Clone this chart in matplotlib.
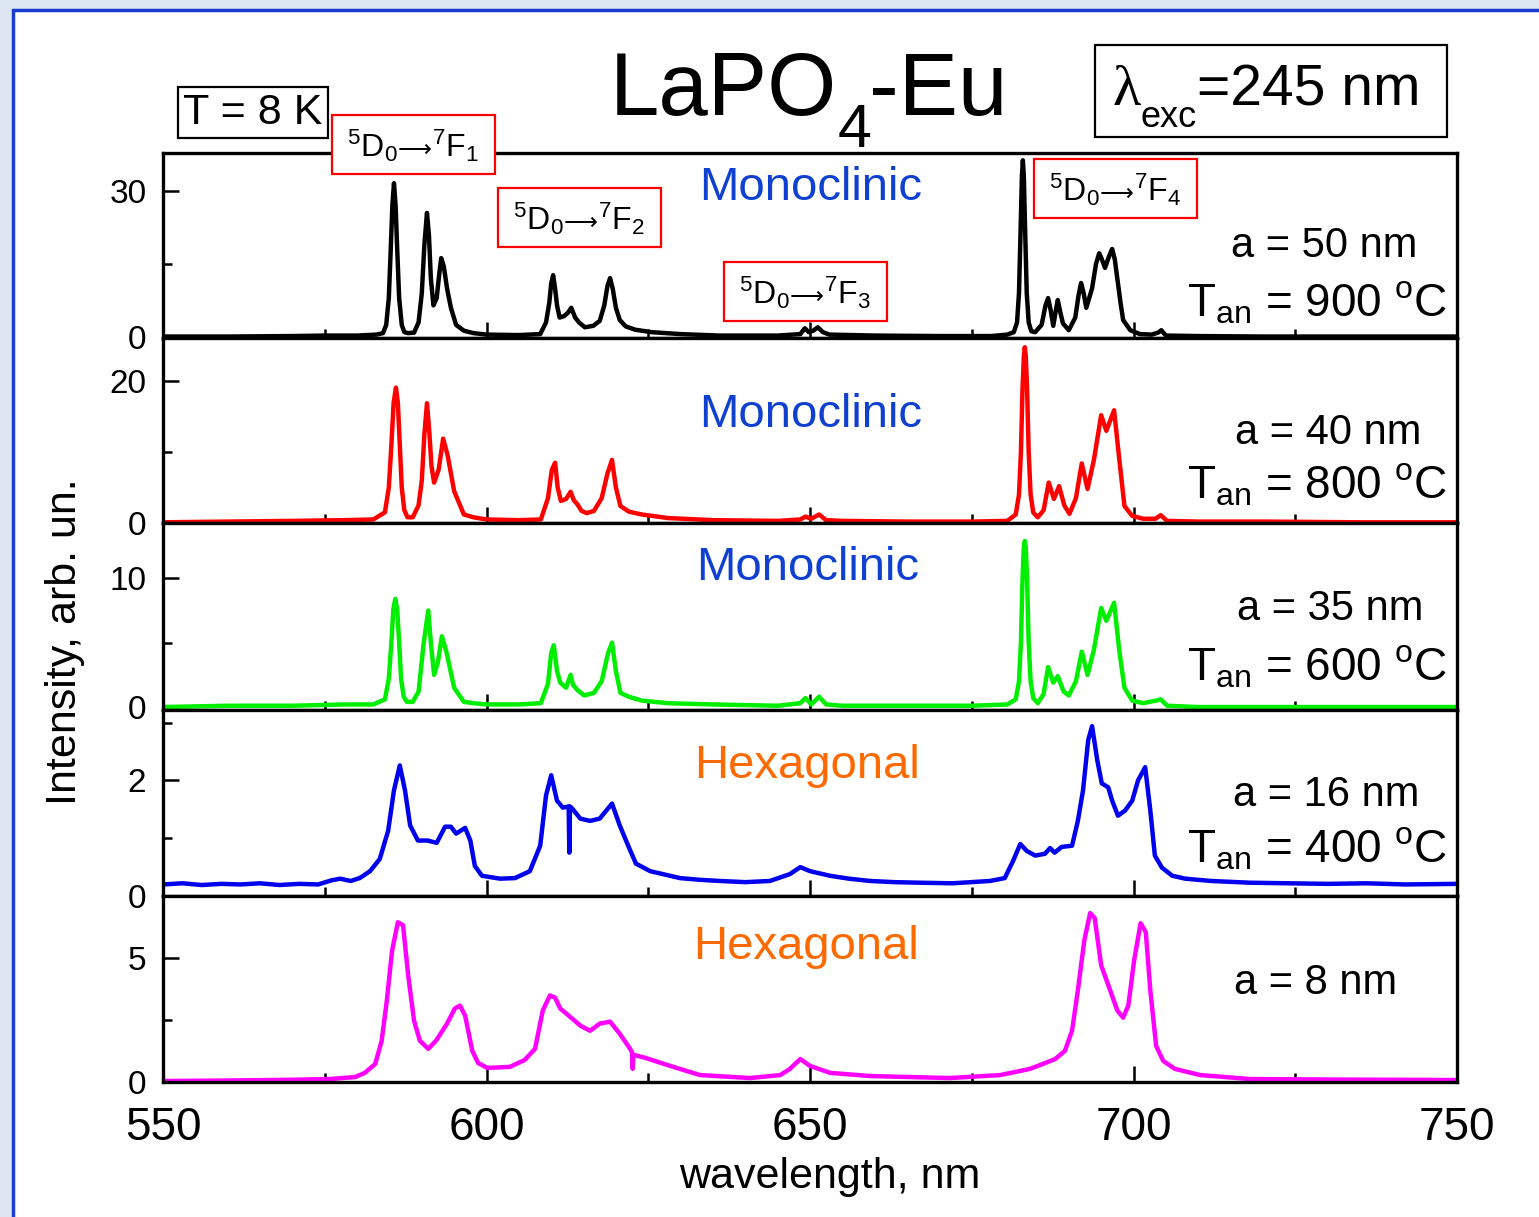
"""
LaPO4-Eu luminescence spectra at 8 K, five particle sizes stacked
"""

import matplotlib
matplotlib.use("Agg")
import matplotlib.pyplot as plt
from matplotlib.patches import Rectangle
from matplotlib.ticker import MultipleLocator

plt.rcParams['font.family'] = ['Liberation Sans', 'DejaVu Sans']
plt.rcParams['mathtext.fontset'] = 'custom'
plt.rcParams['mathtext.rm'] = 'Liberation Sans'
plt.rcParams['mathtext.it'] = 'Liberation Sans:italic'
plt.rcParams['mathtext.bf'] = 'Liberation Sans:bold'

W, H = 1539, 1217

# ---- spectra (wavelength nm, intensity arb. un.) ----
wl_50 = [550, 560, 570, 575, 580, 583.0, 584.0, 584.5, 584.9, 585.2, 585.45, 585.7, 585.95, 586.2,
         586.5, 586.9, 587.3, 587.9, 588.8, 589.5, 590.0, 590.4, 590.8, 591.1, 591.4, 591.8, 592.3,
         592.7, 593.0, 593.4, 593.9, 594.5, 595.3, 596.5, 598, 600, 605, 608.3, 609.2, 609.7,
         610.0, 610.3, 610.6, 610.9, 611.3, 612.0, 612.6, 613.1, 613.7, 614.3, 615.2, 616.5, 617.5,
         618.2, 618.7, 619.1, 619.5, 620.0, 620.6, 621.5, 623, 625.5, 630, 636, 645, 648.5, 649.2,
         649.8, 650.5, 651.2, 652.0, 653, 660, 670, 678, 680.5, 681.5, 682.0, 682.3, 682.55, 682.75,
         682.9, 683.05, 683.25, 683.5, 683.8, 684.2, 684.8, 685.8, 686.4, 686.8, 687.2, 687.6, 688.0,
         688.3, 688.7, 689.1, 690.0, 691.0, 691.5, 691.9, 692.3, 692.7, 693.6, 694.2, 694.7, 695.1,
         695.6, 696.2, 696.7, 697.1, 697.5, 698.0, 698.4, 699.5, 701, 702.8, 703.8, 704.3, 705, 710,
         720, 735, 750]
int_50 = [0.1, 0.1, 0.2, 0.3, 0.3, 0.5, 0.8, 2.5, 8, 18, 27, 31.6, 27, 18,
          8, 2.5, 1.0, 0.8, 0.9, 3.0, 9, 19, 25.5, 21, 12, 6.5, 8,
          13, 16.2, 14.5, 10, 6, 2.5, 1.3, 0.8, 0.5, 0.4, 0.6, 3.0, 7,
          11, 12.7, 10, 6.5, 4.0, 4.3, 5.0, 6.0, 4.0, 3.0, 2.0, 2.3, 3.3,
          6.5, 10.5, 12.1, 10, 6, 3.5, 2.2, 1.5, 1.0, 0.6, 0.3, 0.3, 0.6, 1.8,
          1.0, 1.3, 2.0, 1.0, 0.5, 0.3, 0.2, 0.2, 0.5, 1.0, 3, 9, 22, 33,
          36.3, 33, 22, 9, 3, 1.2, 1.0, 2.5, 6.5, 8.0, 5.5, 2.3, 5.5,
          7.6, 5, 2.8, 1.4, 4, 8.5, 11.1, 9, 6.0, 10, 15, 17.2, 16,
          14.2, 16.5, 18.1, 16, 12, 7, 3.5, 1.4, 0.6, 0.5, 0.9, 1.4, 0.3, 0.2,
          0.1, 0.1, 0.1]

wl_40 = [550, 560, 570, 578, 582.5, 584.3, 584.9, 585.3, 585.65, 586.0,
         586.3, 586.6, 586.9, 587.3, 587.8, 588.6, 589.5, 590.0, 590.4, 590.8,
         591.15, 591.5, 591.9, 592.6, 593.3, 594.0, 595.0, 596.5, 598, 600,
         605, 608.4, 609.5, 610.1, 610.6, 611.0, 611.5, 612.3, 613.0, 613.5,
         614.0, 614.7, 615.5, 616.6, 617.8, 618.7, 619.4, 620.0, 620.7, 622,
         624, 628, 635, 645, 648.5, 649.3, 650.2, 651.4, 652.5, 655,
         665, 675, 680.5, 681.8, 682.3, 682.6, 682.85, 683.05, 683.2, 683.35,
         683.55, 683.8, 684.1, 684.5, 685.2, 686.1, 686.9, 687.7, 688.5, 689.3,
         690.1, 691.1, 692.0, 692.9, 693.9, 695.0, 695.8, 697.0, 697.8, 698.6,
         699.8, 701.5, 703.4, 704.2, 705.2, 710, 720, 735, 750]
int_40 = [0.1, 0.2, 0.3, 0.4, 0.5, 1.5, 5, 11, 17, 19.1,
          17, 11, 5, 1.8, 0.8, 0.8, 2.5, 6, 12.5, 16.9,
          13, 8, 5.7, 7.5, 11.9, 9.5, 4.5, 1.2, 0.8, 0.5,
          0.4, 0.5, 3.5, 7.5, 8.5, 5, 3.1, 3.4, 4.4, 3.2,
          2.7, 1.7, 1.4, 1.7, 3.5, 7, 8.9, 5, 2.4, 1.6,
          1.2, 0.7, 0.4, 0.3, 0.5, 0.9, 0.6, 1.2, 0.4, 0.3,
          0.2, 0.2, 0.3, 1.2, 4, 10, 19, 23.5, 24.8, 23.5,
          19, 10, 4, 1.5, 0.8, 1.8, 5.7, 3.4, 5.2, 2.5,
          1.3, 3.5, 8.4, 4.8, 9, 15.2, 13.0, 15.9, 9, 2.4,
          1.0, 0.6, 0.6, 1.1, 0.3, 0.2, 0.2, 0.1, 0.1]

wl_35 = [550, 560, 570, 578, 582.5, 584.3, 584.9, 585.3, 585.6, 585.9,
         586.2, 586.5, 586.8, 587.2, 587.7, 588.6, 589.5, 590.3, 591.0, 591.4,
         591.9, 592.5, 593.1, 593.8, 595.0, 596.5, 598, 600, 605, 608.4,
         609.5, 610.0, 610.4, 610.9, 611.4, 612.3, 613.0, 613.4, 614.1, 615.1,
         616.6, 617.8, 618.8, 619.4, 620.0, 620.7, 622, 624, 628, 635,
         645, 648.5, 649.3, 650.2, 651.4, 652.5, 655, 665, 675, 680.5,
         681.8, 682.3, 682.6, 682.85, 683.05, 683.2, 683.35, 683.55, 683.8, 684.1,
         684.5, 685.2, 686.1, 686.8, 687.6, 688.3, 689.2, 690.0, 691.1, 692.0,
         692.9, 693.9, 695.0, 695.8, 697.0, 697.8, 698.6, 699.8, 701.5, 703.5,
         704.2, 705.2, 710, 720, 735, 750]
int_35 = [0.0, 0.1, 0.1, 0.2, 0.2, 0.6, 2.2, 5, 7.6, 8.4,
          7.6, 5, 2.2, 0.8, 0.4, 0.4, 1.2, 5, 7.5, 5,
          2.5, 3.5, 5.5, 4.3, 1.5, 0.4, 0.3, 0.2, 0.2, 0.3,
          1.8, 4.2, 4.8, 2.8, 1.9, 1.5, 2.5, 1.7, 1.3, 0.9,
          1.1, 2.0, 4.2, 5.0, 2.8, 1.1, 0.8, 0.5, 0.3, 0.2,
          0.1, 0.3, 0.7, 0.2, 0.8, 0.2, 0.1, 0.1, 0.1, 0.2,
          0.6, 2, 5, 10, 12.4, 12.9, 12.4, 10, 5, 2,
          0.7, 0.3, 1.0, 3.1, 1.9, 2.4, 1.2, 0.9, 2.0, 4.3,
          2.5, 4.5, 7.7, 6.7, 8.1, 4.4, 1.5, 0.5, 0.3, 0.5,
          0.6, 0.1, 0.0, 0.0, 0.0, 0.0]

wl_16 = [550, 553, 556, 559, 562, 565, 568, 571, 574, 576, 577.4, 579, 580.4, 582.0, 583.5,
         584.8, 585.7, 586.6, 587.4, 588.2, 589.4, 590.9, 592.3, 593.6, 594.5, 595.3, 596.7,
         597.5, 598.2, 599.3, 602.1, 604.4, 606.7, 608.3, 609.2, 610.0, 610.9, 611.8, 612.7,
         612.8, 612.9, 613.2, 614.5, 616.0, 617.5, 619.4, 620.6, 621.9, 623.1, 625.3, 629.9,
         633, 636.1, 640, 643.8, 646.9, 648.5, 650.0, 653.1, 656, 659.3, 663, 667.0, 672, 677.8,
         680.1, 681.4, 682.5, 683.5, 684.8, 686.3, 687.1, 687.8, 688.9, 690.5, 691.4, 692.2,
         693.0, 693.6, 694.4, 695.1, 696.1, 696.7, 697.6, 698.7, 699.8, 700.7, 701.8, 702.6,
         703.3, 704.4, 706.0, 708.0, 712, 718.0, 724, 730, 736, 742, 750]
int_16 = [0.2, 0.22, 0.19, 0.21, 0.2, 0.22, 0.19, 0.21, 0.2, 0.27, 0.3, 0.26, 0.31, 0.43, 0.64,
          1.13, 1.83, 2.26, 1.83, 1.22, 0.96, 0.96, 0.92, 1.2, 1.2, 1.08, 1.18,
          0.96, 0.52, 0.35, 0.3, 0.31, 0.43, 0.87, 1.74, 2.09, 1.65, 1.53, 1.55,
          0.75, 1.55, 1.52, 1.34, 1.3, 1.34, 1.6, 1.22, 0.87, 0.56, 0.43, 0.31,
          0.28, 0.26, 0.24, 0.26, 0.38, 0.5, 0.43, 0.35, 0.3, 0.26, 0.24, 0.23, 0.22, 0.26,
          0.31, 0.61, 0.9, 0.78, 0.7, 0.73, 0.83, 0.75, 0.85, 0.87, 1.3, 1.83,
          2.7, 2.94, 2.35, 1.95, 1.88, 1.65, 1.39, 1.48, 1.65, 2.0, 2.23, 1.48,
          0.7, 0.49, 0.35, 0.3, 0.26, 0.23, 0.22, 0.21, 0.22, 0.2, 0.21]

wl_8 = [550, 560, 570, 575.8, 579.7, 581.2, 582.8, 583.8, 584.6, 585.4, 586.3, 587.1, 587.9, 588.8,
        589.7, 591.0, 592.2, 593.9, 595.1, 595.9, 596.7, 597.8, 598.7, 600.1, 603.6, 605.9, 607.5,
        608.7, 609.8, 610.6, 611.4, 612.9, 614.5, 616.0, 617.5, 619.1, 620.6, 622.2, 622.5, 622.6,
        622.7, 624.5, 628.4, 633.0, 640.7, 645.4, 646.9, 648.5, 650.0, 653.1, 659.3, 671.6, 679.4,
        684.0, 686.0, 687.9, 689.4, 690.5, 691.4, 692.4, 693.3, 694.0, 695.0, 696.4, 697.5, 698.4,
        699.2, 700.1, 701.1, 701.9, 702.6, 703.5, 704.6, 706.4, 710.3, 718.0, 730, 750]
int_8 = [0.04, 0.06, 0.09, 0.12, 0.2, 0.37, 0.73, 1.67, 3.3, 5.3, 6.46, 6.34, 4.3, 2.48,
         1.67, 1.34, 1.67, 2.36, 2.97, 3.09, 2.68, 1.26, 0.77, 0.57, 0.61, 0.89, 1.34,
         2.89, 3.5, 3.41, 2.97, 2.64, 2.28, 2.07, 2.36, 2.44, 1.95, 1.34, 1.2, 0.53,
         1.1, 0.98, 0.65, 0.28, 0.16, 0.28, 0.53, 0.93, 0.65, 0.37, 0.24, 0.16, 0.28,
         0.53, 0.73, 0.93, 1.26, 2.07, 3.7, 5.73, 6.83, 6.63, 4.72, 3.7, 2.89, 2.6,
         3.09, 4.92, 6.42, 6.06, 3.7, 1.46, 0.85, 0.53, 0.28, 0.12, 0.1, 0.08]

wavelengths = [wl_50, wl_40, wl_35, wl_16, wl_8]
intensities = [int_50, int_40, int_35, int_16, int_8]
colors = ['black', '#ff0000', '#00ee00', '#0000ee', '#ff00ff']
y_limits = [(-0.2, 37.8), (0, 26.1), (-0.23, 14.3), (0, 3.22), (0, 7.52)]
y_major = [30, 20, 10, 2, 5]
y_minor = [15, 10, 5, 1, 2.5]

phase_labels = ["Monoclinic", "Monoclinic", "Monoclinic", "Hexagonal", "Hexagonal"]
size_labels = ["a = 50 nm", "a = 40 nm", "a = 35 nm", "a = 16 nm", "a = 8 nm"]
anneal_temps = ["900", "800", "600", "400", None]
transitions = ["1", "2", "3", "4"]


def fx(px):
    return px / W


def fy(py):
    return 1 - py / H


fig = plt.figure(figsize=(W / 100, H / 100), dpi=100, facecolor='#dce6f2')

# white sheet with blue frame
fig.add_artist(Rectangle((fx(13), fy(1230)), fx(1560), 1220 / H, transform=fig.transFigure,
                         facecolor='white', edgecolor='#1a3fd0', lw=2.5, zorder=-5))

panel_edges = [153, 338, 523, 710, 896, 1082]
for i in range(5):
    top, bot = panel_edges[i], panel_edges[i + 1]
    ax = fig.add_axes([fx(163), fy(bot), fx(1457) - fx(163), (bot - top) / H])
    ax.plot(wavelengths[i], intensities[i], color=colors[i], lw=3.2,
            solid_joinstyle='round', solid_capstyle='round')
    ax.set_xlim(550, 750)
    ax.set_ylim(*y_limits[i])
    ax.xaxis.set_major_locator(MultipleLocator(50))
    ax.xaxis.set_minor_locator(MultipleLocator(25))
    ax.yaxis.set_major_locator(MultipleLocator(y_major[i]))
    ax.yaxis.set_minor_locator(MultipleLocator(y_minor[i]))
    ax.tick_params(which='both', direction='in', width=1.8, top=False, right=False)
    ax.tick_params(which='major', length=11.5)
    ax.tick_params(which='minor', length=6.5)
    ax.tick_params(axis='y', labelsize=24, pad=12)
    ax.tick_params(axis='x', labelsize=33, pad=17)
    if i < 4:
        ax.tick_params(axis='x', labelbottom=False)
    for s in ax.spines.values():
        s.set_linewidth(2.4)

fig.text(fx(65), fy(642), "Intensity, arb. un.", rotation=90, fontsize=31, ha='center', va='center')
fig.text(fx(830), fy(1177), "wavelength, nm", fontsize=31, ha='center', va='center')

# phase, particle size and annealing temperature labels
phase_pos = [(811, 200), (811, 427), (808, 580), (807, 778), (806, 959)]
size_pos = [(1324, 257), (1328, 444), (1330, 620), (1326, 806), (1316, 994)]
anneal_y = [317, 499, 681, 863]
for i in range(5):
    col = '#1040d0' if phase_labels[i] == "Monoclinic" else '#ff6a00'
    fig.text(fx(phase_pos[i][0]), fy(phase_pos[i][1]), phase_labels[i], color=col,
             fontsize=34, ha='center', va='baseline')
    fig.text(fx(size_pos[i][0]), fy(size_pos[i][1]), size_labels[i],
             fontsize=30, ha='center', va='baseline')
    if anneal_temps[i] is not None:
        fig.text(fx(1447), fy(anneal_y[i]), r"T$_{\rm an}$ = " + anneal_temps[i] + r" $^{\rm o}$C",
                 fontsize=33, ha='right', va='baseline')

# title, written in pieces so the subscript sits low as in the original
fig.text(fx(837), fy(115), "LaPO", fontsize=64, ha='right', va='baseline')
fig.text(fx(838), fy(147), "4", fontsize=44, ha='left', va='baseline')
fig.text(fx(869), fy(115), "-Eu", fontsize=64, ha='left', va='baseline')

fig.add_artist(Rectangle((fx(178), fy(138)), fx(150), 51 / H, transform=fig.transFigure,
                         facecolor='white', edgecolor='black', lw=1.6, zorder=5))
fig.text(fx(253), fy(113), "T = 8 K", fontsize=31, ha='center', va='center', zorder=6)

fig.add_artist(Rectangle((fx(1095), fy(137)), fx(352), 92 / H, transform=fig.transFigure,
                         facecolor='white', edgecolor='black', lw=1.6, zorder=5))
fig.text(fx(1112), fy(105), "λ", family=['Liberation Serif', 'DejaVu Serif'], fontsize=42,
         ha='left', va='baseline', zorder=6)
fig.text(fx(1141), fy(127), "exc", fontsize=26, ha='left', va='baseline', zorder=6)
fig.text(fx(1197), fy(105), "=245 nm", fontsize=41, ha='left', va='baseline', zorder=6)

# red transition boxes; label built from pieces so the arrow can come from DejaVu Sans
renderer = fig.canvas.get_renderer()
box_pos = [(332, 115), (498, 188), (724, 262), (1034, 159)]
for (bx, by), n in zip(box_pos, transitions):
    fig.add_artist(Rectangle((fx(bx), fy(by + 59)), fx(163), 59 / H, transform=fig.transFigure,
                             facecolor='white', edgecolor='#ff0000', lw=1.6, zorder=5))
    parts = [fig.text(0, fy(by + 42), r"$^5$D$_0$", fontsize=23, va='baseline', zorder=6),
             fig.text(0, fy(by + 42), "⟶", family=['DejaVu Sans'], fontsize=17,
                      va='baseline', zorder=6),
             fig.text(0, fy(by + 42), r"$^7$F$_" + n + "$", fontsize=23, va='baseline', zorder=6)]
    widths = [p.get_window_extent(renderer).width for p in parts]
    x = bx + 81 - sum(widths) / 2
    for p, w in zip(parts, widths):
        p.set_x(fx(x))
        x += w

fig.savefig('out.png', dpi=100, facecolor=fig.get_facecolor())
plt.close()
